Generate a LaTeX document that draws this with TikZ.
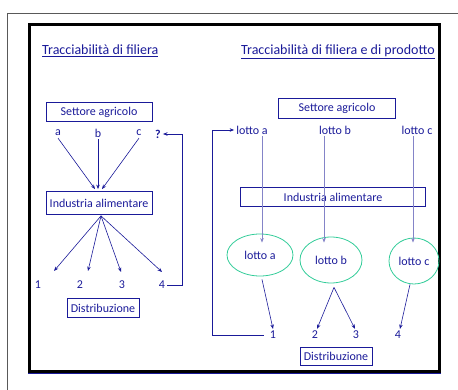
\documentclass[tikz,border=0pt]{standalone}
\usepackage{fontspec}
\setmainfont{Carlito}
\usetikzlibrary{arrows.meta,calc,shapes.geometric}

\definecolor{ink}{HTML}{1A1A99}
\definecolor{pale}{HTML}{8484C8}
\definecolor{lotgreen}{HTML}{33CC99}

\begin{document}
\begin{tikzpicture}[x=1pt,y=-1pt]
% ----- styles -----
\tikzset{
  lab/.style={text=ink,font=\fontsize{12}{14}\selectfont,inner sep=2pt},
  box/.style={lab,draw=ink,line width=0.8pt,minimum height=19pt,inner sep=0pt},
  lot/.style={lab,ellipse,draw=lotgreen,line width=0.8pt,inner sep=0pt},
  arr/.style={-{Stealth[length=4.5pt,width=3.5pt]},draw=ink,line width=0.6pt},
  varr/.style={arr,draw=pale,line width=1pt},
  ttl/.style={text=ink,font=\fontsize{14}{16}\selectfont,anchor=base west,inner sep=0pt}
}

% ----- page -----
\useasboundingbox (0,0) rectangle (458,390);
\draw[gray!70!black,line width=1.8pt] (7.5,390) -- (7.5,13.5) -- (458,13.5);
\draw[ink,line width=1pt] (28,373) -- (441,373);
\draw[black,line width=3pt] (29.5,24.5) rectangle (439.5,371);

% ===== left: filiera =====
\node[ttl] (ttlL) at (42,55) {\underline{Tracciabilità di filiera}};

\node[box,minimum width=106pt] (settL) at (99,112) {Settore agricolo};
\node[lab] (la) at (58,133) {a};
\node[lab] (lb) at (98,133) {b};
\node[lab] (lc) at (139,133) {c};
\node[lab] (lq) at (158,134) {\textbf{?}};

\node[box,minimum width=106pt,minimum height=23pt] (indL) at (99,203) {Industria alimentare};

\node[lab] (n1) at (38,285) {1};
\node[lab] (n2) at (80,285) {2};
\node[lab] (n3) at (122,285) {3};
\node[lab] (n4) at (162,285) {4};

\node[box,minimum width=72pt] (distL) at (103,308) {Distribuzione};

% lots into the industry
\draw[arr] (la.south) -- ($(indL.north)+(-4,-2)$);
\draw[arr] (lb.south) -- ($(indL.north)+(-1,-2)$);
\draw[arr] (lc.south) -- ($(indL.north)+(3,-2)$);

% industry to the shops
\draw[arr] ($(indL.south)+(2,1)$) -- ($(n1)+(16,-14)$);
\draw[arr] ($(indL.south)+(2,1)$) -- ($(n2)+(8,-14)$);
\draw[arr] ($(indL.south)+(2,1)$) -- ($(n3)+(-1,-13)$);
\draw[arr] ($(indL.south)+(2,1)$) -- ($(n4)+(0,-13)$);

% back trace
\draw[arr] (n4.east) -- ++(15,0) |- (lq.east);

% ===== right: filiera e prodotto =====
\node[ttl] (ttlR) at (241,55) {\underline{Tracciabilità di filiera e di prodotto}};

\node[box,minimum width=117pt,minimum height=20pt] (settR) at (337,108) {Settore agricolo};
\node[lab] (lA) at (252,130) {lotto a};
\node[lab] (lB) at (335,130) {lotto b};
\node[lab] (lC) at (417,130) {lotto c};

\node[box,minimum width=185pt] (indR) at (333,197) {Industria alimentare};

\node[lot,minimum width=66pt,minimum height=42pt] (eA) at (260,255) {lotto a};
\node[lot,minimum width=62pt,minimum height=46pt] (eB) at (331,260) {lotto b};
\node[lot,minimum width=50pt,minimum height=46pt] (eC) at (414,261) {lotto c};

\node[lab] (m1) at (273,335) {1};
\node[lab] (m2) at (315,335) {2};
\node[lab] (m3) at (356,335) {3};
\node[lab] (m4) at (398,335) {4};

\node[box,minimum width=72pt,minimum height=18pt] (distR) at (336,356) {Distribuzione};

% lots kept apart through the industry
\draw[varr] ([xshift=2pt]eA.north |- lA.south) -- ($(eA.north)+(2,9)$);
\draw[varr] ([xshift=-7pt]eB.north |- lB.south) -- ($(eB.north)+(-7,6)$);
\draw[varr] ([xshift=-1pt]eC.north |- lC.south) -- ($(eC.north)+(-1,5)$);

% lots to the shops
\draw[arr] ($(eA.south)+(2,3)$) -- (m1.north);
\draw[arr] ($(eB.south)+(3,4)$) -- ($(m2.north)+(2,0)$);
\draw[arr] ($(eB.south)+(3,4)$) -- ($(m3.north)+(-1,0)$);
\draw[arr] ($(eC.south)+(-4,0)$) -- ($(m4.north)+(2,0)$);

% back trace
\draw[arr] ([xshift=-4pt]m1.west) -- ++(-51,0) |- (lA.west);
\end{tikzpicture}
\end{document}
